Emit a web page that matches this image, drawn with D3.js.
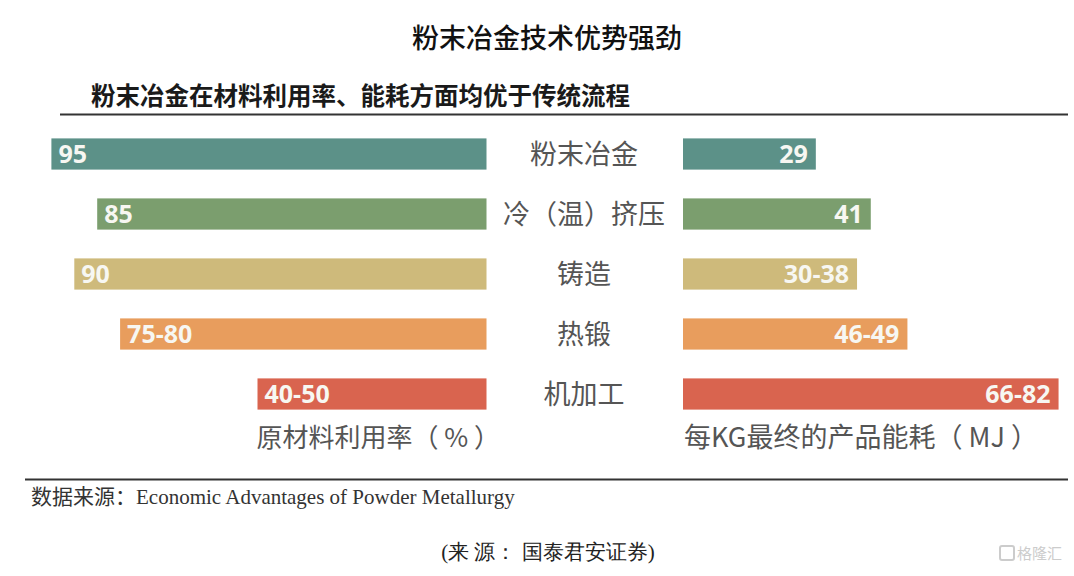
<!DOCTYPE html>
<html><head><meta charset="utf-8">
<script src="https://cdn.jsdelivr.net/npm/d3@7"></script>
<style>
html,body{margin:0;padding:0;background:#fff;}
svg{display:block;}
</style>
</head><body>
<svg id="c" width="1074" height="576"></svg>
<script>
const categories = ["粉末冶金", "冷（温）挤压", "铸造", "热锻", "机加工"];
const utilLow  = [95, 85, 90, 75, 40];
const utilHigh = [95, 85, 90, 80, 50];
const energyLow  = [29, 41, 30, 46, 66];
const energyHigh = [29, 41, 38, 49, 82];
const colors = ["#5c9188", "#7b9e6e", "#ceba7b", "#e89d5d", "#d9644f"];
const rangeLabel = (lo, hi) => lo === hi ? String(hi) : lo + "-" + hi;

const svg = d3.select("#c");
const cjk = "'Noto Sans CJK SC','Noto Sans',sans-serif";

const y = d3.scaleBand().domain(categories).range([124, 424]).paddingInner(0.48).paddingOuter(0.24);
const w = d3.scaleLinear().domain([0, 100]).range([0, 458]);
const leftEdge = 486.5, rightEdge = 683;

// title
svg.append("text").attr("x", 547).attr("y", 48).attr("text-anchor", "middle")
  .style("font-family", cjk).style("font-size", "27px").style("font-weight", 500).attr("fill", "#111")
  .text("粉末冶金技术优势强劲");
// subtitle
svg.append("text").attr("x", 91).attr("y", 105)
  .style("font-family", cjk).style("font-size", "24.5px").style("font-weight", 700).attr("fill", "#1a1a1a")
  .text("粉末冶金在材料利用率、能耗方面均优于传统流程");
svg.append("line").attr("x1", 60).attr("x2", 1068).attr("y1", 114.5).attr("y2", 114.5)
  .attr("stroke", "#333").attr("stroke-width", 2);

const rows = svg.append("g").selectAll("g").data(categories).join("g");

// left bars
rows.append("rect")
  .attr("x", (d, i) => leftEdge - w(utilHigh[i])).attr("y", d => y(d))
  .attr("width", (d, i) => w(utilHigh[i])).attr("height", y.bandwidth())
  .attr("fill", (d, i) => colors[i]);
rows.append("text")
  .attr("x", (d, i) => leftEdge - w(utilHigh[i]) + 7).attr("y", d => y(d) + y.bandwidth() / 2 + 9)
  .style("font-family", "'Open Sans','Liberation Sans',sans-serif").style("font-size", "25px").style("font-weight", 700)
  .attr("fill", "#f7f7f2").text((d, i) => rangeLabel(utilLow[i], utilHigh[i]));

// right bars
rows.append("rect")
  .attr("x", rightEdge).attr("y", d => y(d))
  .attr("width", (d, i) => w(energyHigh[i])).attr("height", y.bandwidth())
  .attr("fill", (d, i) => colors[i]);
rows.append("text")
  .attr("x", (d, i) => rightEdge + w(energyHigh[i]) - 8).attr("y", d => y(d) + y.bandwidth() / 2 + 9)
  .attr("text-anchor", "end")
  .style("font-family", "'Open Sans','Liberation Sans',sans-serif").style("font-size", "25px").style("font-weight", 700)
  .attr("fill", "#f7f7f2").text((d, i) => rangeLabel(energyLow[i], energyHigh[i]));

// category labels
rows.append("text")
  .attr("x", 584).attr("y", d => y(d) + y.bandwidth() / 2 + 10).attr("text-anchor", "middle")
  .style("font-family", cjk).style("font-size", "27px").attr("fill", "#555")
  .text(d => d);

// axis titles
svg.append("text").attr("x", 500).attr("y", 447).attr("text-anchor", "end")
  .style("font-family", cjk).style("font-size", "26px").attr("fill", "#555")
  .text("原材料利用率（ % ）");
svg.append("text").attr("x", 684).attr("y", 447)
  .style("font-family", cjk).style("font-size", "27px").attr("fill", "#555")
  .text("每KG最终的产品能耗（ MJ ）");

// bottom rule and sources
svg.append("line").attr("x1", 25).attr("x2", 1068).attr("y1", 479.5).attr("y2", 479.5)
  .attr("stroke", "#333").attr("stroke-width", 2);
const src = svg.append("text").attr("x", 31).attr("y", 504).attr("fill", "#333").style("font-size", "21px");
src.append("tspan").style("font-family", cjk).text("数据来源：");
src.append("tspan").style("font-family", "'Liberation Serif','DejaVu Serif',serif").text("Economic Advantages of Powder Metallurgy");

svg.append("text").attr("x", 548).attr("y", 559).attr("text-anchor", "middle")
  .style("font-family", "'Liberation Serif',serif").style("font-size", "21px").attr("fill", "#222")
  .text("(来 源：  国泰君安证券)");

// watermark
svg.append("rect").attr("x", 1000).attr("y", 546).attr("width", 14).attr("height", 14)
  .attr("fill", "none").attr("stroke", "#ccc").attr("stroke-width", 2).attr("rx", 2);
svg.append("text").attr("x", 1017).attr("y", 559)
  .style("font-family", cjk).style("font-size", "15px").attr("fill", "#ccc").text("格隆汇");
</script>
</body></html>
